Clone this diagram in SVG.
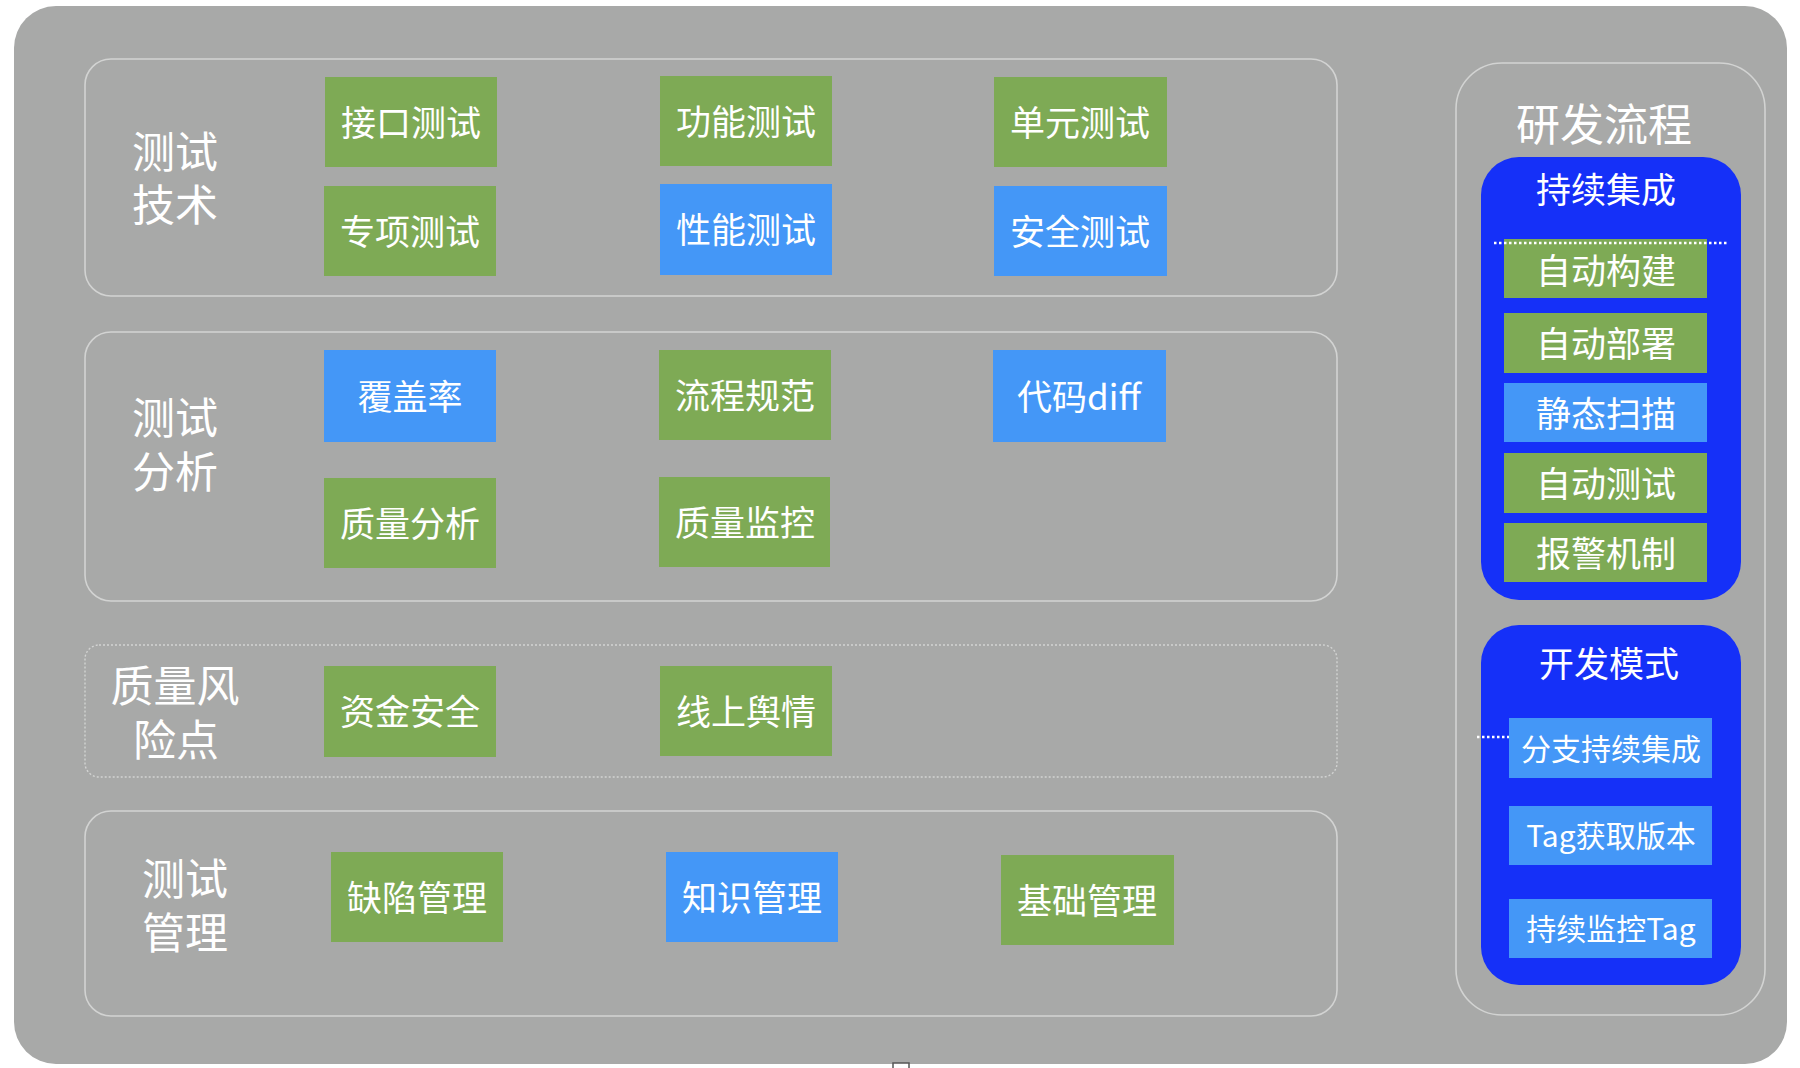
<svg xmlns="http://www.w3.org/2000/svg" width="1800" height="1068" viewBox="0 0 1800 1068">
<style>
text{font-family:"Microsoft YaHei","Noto Sans CJK SC","Noto Sans",sans-serif;fill:#fff;text-anchor:middle;dominant-baseline:central}
.g{fill:#7eaa55}
.b{fill:#4497f7}
.d{fill:#1530f8}
.panel{fill:none;stroke:#d2d3d2;stroke-width:1.6}
.dash{fill:none;stroke:#d2d3d2;stroke-width:1.4;stroke-dasharray:2 2}
.t{font-size:35px}
.l{font-size:43px}
.h{font-size:44px}
.s{font-size:30px}
.dot{stroke:#fff;stroke-width:2.5;stroke-dasharray:2.5 2.5;fill:none}
</style>
<rect x="0" y="0" width="1800" height="1068" fill="#ffffff"/>
<rect id="background" x="14" y="6" width="1773" height="1058" rx="42" fill="#a8a9a8"/>
<rect x="893" y="1063" width="16" height="10" fill="#ffffff" stroke="#555" stroke-width="1.5"/>

<g id="panel-tech">
<rect class="panel" x="85" y="59" width="1252" height="237" rx="26"/>
<text class="l"><tspan x="175" y="149">测试</tspan><tspan x="175" y="202">技术</tspan></text>
</g>
<g id="panel-analysis">
<rect class="panel" x="85" y="332" width="1252" height="269" rx="26"/>
<text class="l"><tspan x="175" y="415">测试</tspan><tspan x="175" y="469">分析</tspan></text>
</g>
<g id="panel-risk">
<rect class="dash" x="85" y="645" width="1252" height="132" rx="14"/>
<text class="l"><tspan x="175" y="683">质量风</tspan><tspan x="176" y="737">险点</tspan></text>
</g>
<g id="panel-manage">
<rect class="panel" x="85" y="811" width="1252" height="205" rx="26"/>
<text class="l"><tspan x="185" y="876">测试</tspan><tspan x="185" y="930">管理</tspan></text>
</g>

<g id="n-jiekou"><rect class="g" x="325" y="77" width="172" height="90"/><text class="t" x="411" y="120">接口测试</text></g>
<g id="n-gongneng"><rect class="g" x="660" y="76" width="172" height="90"/><text class="t" x="746" y="119">功能测试</text></g>
<g id="n-danyuan"><rect class="g" x="994" y="77" width="173" height="90"/><text class="t" x="1080" y="120">单元测试</text></g>
<g id="n-zhuanxiang"><rect class="g" x="324" y="186" width="172" height="90"/><text class="t" x="410" y="229">专项测试</text></g>
<g id="n-xingneng"><rect class="b" x="660" y="184" width="172" height="91"/><text class="t" x="746" y="227">性能测试</text></g>
<g id="n-anquan"><rect class="b" x="994" y="186" width="173" height="90"/><text class="t" x="1080" y="229">安全测试</text></g>

<g id="n-fugai"><rect class="b" x="324" y="350" width="172" height="92"/><text class="t" x="410" y="394">覆盖率</text></g>
<g id="n-liucheng"><rect class="g" x="659" y="350" width="172" height="90"/><text class="t" x="745" y="393">流程规范</text></g>
<g id="n-diff"><rect class="b" x="993" y="350" width="173" height="92"/><text class="t" x="1079" y="394">代码diff</text></g>
<g id="n-zlfx"><rect class="g" x="324" y="478" width="172" height="90"/><text class="t" x="410" y="521">质量分析</text></g>
<g id="n-zljk"><rect class="g" x="659" y="477" width="171" height="90"/><text class="t" x="745" y="520">质量监控</text></g>

<g id="n-zijin"><rect class="g" x="324" y="666" width="172" height="91"/><text class="t" x="410" y="709">资金安全</text></g>
<g id="n-yuqing"><rect class="g" x="660" y="666" width="172" height="90"/><text class="t" x="746" y="709">线上舆情</text></g>

<g id="n-quexian"><rect class="g" x="331" y="852" width="172" height="90"/><text class="t" x="417" y="895">缺陷管理</text></g>
<g id="n-zhishi"><rect class="b" x="666" y="852" width="172" height="90"/><text class="t" x="752" y="895">知识管理</text></g>
<g id="n-jichu"><rect class="g" x="1001" y="855" width="173" height="90"/><text class="t" x="1087" y="898">基础管理</text></g>

<g id="panel-devflow">
<rect class="panel" x="1456" y="63" width="309" height="952" rx="46"/>
<text class="h" x="1604" y="122">研发流程</text>
</g>
<g id="n-ci">
<rect class="d" x="1481" y="157" width="260" height="443" rx="38"/>
<text class="t" x="1606" y="187">持续集成</text>
</g>
<g id="n-build"><rect class="g" x="1504" y="239" width="203" height="59"/><text class="t" x="1606" y="268">自动构建</text></g>
<g id="n-deploy"><rect class="g" x="1504" y="313" width="203" height="60"/><text class="t" x="1606" y="341">自动部署</text></g>
<g id="n-scan"><rect class="b" x="1504" y="383" width="203" height="59"/><text class="t" x="1606" y="411">静态扫描</text></g>
<g id="n-autotest"><rect class="g" x="1504" y="453" width="203" height="60"/><text class="t" x="1606" y="481">自动测试</text></g>
<g id="n-alarm"><rect class="g" x="1504" y="523" width="203" height="59"/><text class="t" x="1606" y="551">报警机制</text></g>

<g id="n-devmode">
<rect class="d" x="1481" y="625" width="260" height="360" rx="38"/>
<text class="t" x="1609" y="661">开发模式</text>
</g>
<g id="n-branch"><rect class="b" x="1509" y="718" width="203" height="60"/><text class="s" x="1611" y="747">分支持续集成</text></g>
<g id="n-tagget"><rect class="b" x="1509" y="806" width="203" height="59"/><text class="s" x="1611" y="834">Tag获取版本</text></g>
<g id="n-tagmon"><rect class="b" x="1509" y="899" width="203" height="59"/><text class="s" x="1611" y="927">持续监控Tag</text></g>

<g id="connectors">
<line class="dot" x1="1494" y1="243" x2="1727" y2="243"/>
<line class="dot" x1="1477" y1="737" x2="1509" y2="737"/>
</g>
</svg>
